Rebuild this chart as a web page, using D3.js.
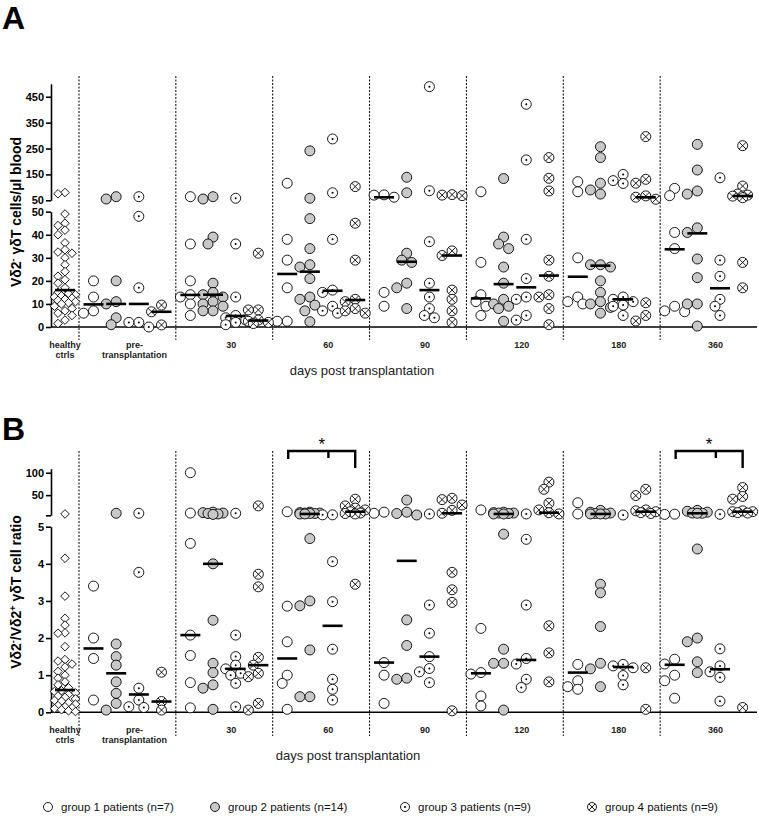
<!DOCTYPE html>
<html><head><meta charset="utf-8">
<script src="https://cdn.jsdelivr.net/npm/d3@7"></script>
<style>body{margin:0;background:#fff;} svg{display:block;font-family:Arial,"Liberation Sans",sans-serif;}</style>
</head><body><div id="chart"></div>
<script>
// ---------- DATA ----------
const timepoints = ["pre-transplantation","30","60","90","120","180","360"];
const timeLabels = [["pre-","transplantation"],["30"],["60"],["90"],["120"],["180"],["360"]];
const groupNames = ["group 1 patients (n=7)","group 2 patients (n=14)","group 3 patients (n=9)","group 4 patients (n=9)"];

// Panel A: Vδ2- γδT cells / µl blood (per timepoint)
const healthyA = [80,75,49,45,44,42,40,36.5,33.5,32.5,32,30,27,24,22,20.5,19,17,15,14.5,14,13.5,13,12.5,12,11.5,11,10.5,10,9,8,7,6,5,3,1.5];
const healthyAMedian = 16;
const cellsG1 = [[20,13,7,6],[64,36,20,14,13,10,5],[116,38,29,17,2.5,2.5],[71,70,62,15,9],[83,28,14,11,9,5],[122,83,30,13,11,10],[96,68,41,34,9,7,6.6]];
const cellsG2 = [[64,55,20,11,10,4,1],[64,55,39,36,19,15,14,13,11,10,9,7,7],[241,58,47,34,27,26,21,13,12,9.5,7,2.3],[139,79,32,29,28,19,17,8],[134,39,36,34,26,19,12,10,9,8,2.5],[257,215,116,90,74,27,27,26,20,15,11,10,8.5,6],[266,167,86,74,43,41,29.5,21.4,10,10,0.4]];
const cellsG3 = [[64,48,17,2,2,0],[58,36,13,5,4,3,2,1],[287,79,38,16,15,9,7,6],[489,87,37,19,13,8,5,4],[421,206,38,21,13,12,5,3],[150,126,115,13,12,11,9.5,9,5],[137,29,22,12,9,5]];
const cellsG4 = [[9.5,6.6,0.9],[32,7.4,7.4,3,2.5,2,1.5],[103,45,29,12,11,8,7,6],[72,70,68,33,31,16,12,7,2],[215,135,86,29,22,14,13,8,1],[296,131,116,67,62,54,10.5,5,2.6],[261,105,74,70,66,60,28,17]];
const cellsMedians = [
  [9.8,13.9,23,61.6,12.4,21.8,33.7],
  [10,14,24,28.3,18.6,26.6,40.6],
  [10,4.8,15.7,16,17.2,12,16.8],
  [6.6,2.8,11.7,31,22.3,61.6,66.6]];
const cellsTicksLow = [0,10,20,30,40,50];
const cellsTicksHigh = [50,150,250,350,450];

// Panel B: Vδ2-/Vδ2+ γδT cell ratio
const healthyB = [8,4.15,3.13,2.53,2.35,2.14,2.13,1.77,1.42,1.38,1.3,1.22,1.1,1.0,0.92,0.82,0.74,0.66,0.58,0.56,0.52,0.48,0.44,0.4,0.36,0.32,0.3,0.26,0.22,0.18,0.15,0.12,0.1,0.07,0.04,0.02];
const healthyBMedian = 0.6;
const ratioG1 = [[3.4,2.0,1.45,0.33],[100,10,4.55,2.08,1.53,0.8,0.12],[13,2.86,1.9,1.0,0.78,0.08],[12,9.5,1.34,1.0,0.24],[17,2.26,1.07,1.03,0.44,0.17],[33,8,1.29,0.85,0.69,0.62],[7.5,7,1.43,1.3,1.0,0.85,0.38]];
const ratioG2 = [[9.5,1.84,1.5,1.27,0.82,0.51,0.24,0.06],[12,11,10,9,8,7,4.0,2.48,1.32,1.07,0.74,0.65,0.08],[12,11,10,10,9,9,8,8,4.68,3.0,2.87,1.68,0.42,0.42],[39,12,9,5.7,2.49,1.8,0.92,0.89],[12,11,10,10,9,8,8,4.8,1.7,1.32,1.32,0.06],[16,12,10,9,8,8,8,3.45,3.22,2.31,1.32,1.17,0.69],[16,14,12,10,9.5,9.5,4.4,2.0,1.9,1.36,1.07]];
const ratioG3 = [[9.5,3.77,0.65,0.33,0.15,0.13],[9.5,2.08,1.5,1.27,1.17,1.05,1.0,0.78,0.15],[6,6,4.06,2.98,1.7,0.89,0.62,0.33],[8,2.89,2.13,1.5,1.18,1.09,0.8],[8,4.66,2.89,1.45,1.3,0.89,0.67],[5.7,1.29,1.25,1.2,0.99,0.74],[7.2,1.71,1.25,1.09,0.94,0.3]];
const ratioG4 = [[1.08,0.29,0.06],[26,3.72,3.38,1.48,1.27,1.05,0.96,0.24,0.06],[41,26,21,17,13,10,9,8,3.45],[43,40,28,16,9.5,3.77,3.3,2.96,0.04],[79,63,32,17,10.8,8,2.33,1.6,0.82],[63,49,17,15,13,11,9,1.2,0.08],[67,47,41,15,13,13,11,10,0.13]];
const ratioMedians = [
  [1.72,2.08,1.45,1.34,1.05,1.07,1.28],
  [1.05,4.0,8,4.08,8,8,9.5],
  [0.48,1.17,2.33,1.5,1.41,1.22,1.16],
  [0.29,1.27,13,9.5,10.8,13,13]];
const ratioTicksLow = [0,1,2,3,4,5];
const ratioTicksHigh = [5,50,100];
// significance brackets (timepoint, from group, to group)
const sigBrackets = [{time:"60",from:0,to:3,label:"*"},{time:"360",from:0,to:3,label:"*"}];

// ---------- LAYOUT ----------
const W=759,H=827;
const svg=d3.select("#chart").append("svg").attr("width",W).attr("height",H);
const axisX=51, plotRight=757;
const xBand=d3.scaleBand().domain(timepoints).range([79,plotRight]);
const xGroup=d3.scalePoint().domain([0,1,2,3]).range([14.5,82.5]);
const healthyX=65;
const gx=(t,g)=>xBand(timepoints[t])+xGroup(g);

function swarm(values,yf,cx,step,minD,maxSteps){
  const pts=[];
  values.forEach(v=>{
    const y=yf(v); let best=0,bestScore=-1;
    for(let k=0;k<=maxSteps*2;k++){
      const off=k===0?0:(k%2?-1:1)*Math.ceil(k/2)*step;
      let m=Infinity; pts.forEach(p=>{const d=Math.hypot(p.x-(cx+off),p.y-y); if(d<m)m=d;});
      if(m>=minD){best=off;bestScore=Infinity;break;}
      if(m>bestScore){bestScore=m;best=off;}
    }
    pts.push({x:cx+best,y:y,v:v});
  });
  return pts;
}

function drawSymbol(g,grp,x,y,r){
  const fill=grp===1?"#c8c8c8":"#fff";
  g.append("circle").attr("cx",x).attr("cy",y).attr("r",r).attr("fill",fill).attr("stroke","#000").attr("stroke-width",0.9);
  if(grp===2) g.append("circle").attr("cx",x).attr("cy",y).attr("r",1).attr("fill","#000");
  if(grp===3){const k=r*0.7;
    g.append("line").attr("x1",x-k).attr("y1",y-k).attr("x2",x+k).attr("y2",y+k).attr("stroke","#000").attr("stroke-width",0.9);
    g.append("line").attr("x1",x-k).attr("y1",y+k).attr("x2",x+k).attr("y2",y-k).attr("stroke","#000").attr("stroke-width",0.9);}
}

function drawPanel(cfg){
  const g=svg.append("g");
  const yf=v=>v<=cfg.brk?cfg.low(v):cfg.high(v);
  // dashed separators
  const seps=[79].concat(timepoints.slice(1).map(t=>xBand(t)));
  seps.forEach(x=>g.append("line").attr("x1",x).attr("x2",x).attr("y1",cfg.dashTop).attr("y2",cfg.dashBot)
    .attr("stroke","#000").attr("stroke-width",1).attr("stroke-dasharray","2,1.5"));
  // axes
  const aLow=d3.axisLeft(cfg.low).tickValues(cfg.ticksLow).tickSize(5).tickSizeOuter(0).tickPadding(2).tickFormat(d3.format("d"));
  const aHigh=d3.axisLeft(cfg.high).tickValues(cfg.ticksHigh).tickSize(5).tickSizeOuter(0).tickPadding(2).tickFormat(cfg.highFmt);
  [aLow,aHigh].forEach(a=>{
    const ag=g.append("g").attr("transform",`translate(${axisX},0)`).call(a);
    ag.selectAll("path,line").attr("stroke","#000").attr("stroke-width",1.6);
    ag.selectAll("text").attr("font-size",11).attr("font-weight","bold").attr("fill","#000").attr("font-family","Arial,'Liberation Sans',sans-serif");
  });
  // x baseline
  g.append("line").attr("x1",axisX).attr("x2",plotRight).attr("y1",cfg.low(0)).attr("y2",cfg.low(0)).attr("stroke","#000").attr("stroke-width",1.6);
  // category labels
  const base=cfg.low(0)+20.7;
  const lab=(x,lines)=>lines.forEach((s,i)=>g.append("text").attr("x",x).attr("y",base+i*10).attr("text-anchor","middle")
    .attr("font-size",9).attr("font-weight","bold").attr("fill","#222").text(s));
  lab(healthyX,["healthy","ctrls"]);
  timepoints.forEach((t,i)=>lab(xBand(t)+xBand.bandwidth()/2+7,timeLabels[i]));
  g.append("text").attr("x",cfg.titleX).attr("y",cfg.low(0)+48).attr("text-anchor","middle").attr("font-size",13).attr("fill","#222").text("days post transplantation");
  // healthy diamonds
  const hp=swarm(cfg.healthy,yf,healthyX,3.5,6.5,3);
  hp.forEach(p=>g.append("path").attr("d",`M${p.x},${p.y-4.3}L${p.x+4.3},${p.y}L${p.x},${p.y+4.3}L${p.x-4.3},${p.y}Z`)
    .attr("fill","#fff").attr("stroke","#000").attr("stroke-width",0.9));
  g.append("line").attr("x1",healthyX-10).attr("x2",healthyX+10).attr("y1",yf(cfg.healthyMed)).attr("y2",yf(cfg.healthyMed)).attr("stroke","#000").attr("stroke-width",2.6);
  // patient groups
  cfg.groups.forEach((arr,grp)=>{
    arr.forEach((vals,t)=>{
      const cx=gx(t,grp);
      swarm(vals,yf,cx,5,8.5,2).forEach(p=>drawSymbol(g,grp,p.x,p.y,5));
    });
  });
  cfg.groups.forEach((arr,grp)=>{
    cfg.medians[grp].forEach((m,t)=>{const cx=gx(t,grp);
      g.append("line").attr("x1",cx-10).attr("x2",cx+10).attr("y1",yf(m)).attr("y2",yf(m)).attr("stroke","#000").attr("stroke-width",2.6);});
  });
  // y title
  const tt=g.append("text").attr("transform",`translate(${cfg.ytX},${cfg.ytY}) rotate(-90)`).attr("text-anchor","middle")
    .attr("font-size",14).attr("font-weight","bold").attr("fill","#000");
  cfg.ytParts.forEach(p=>{const ts=tt.append("tspan").text(p.t); if(p.sup){ts.attr("dy",-5).attr("font-size",9);} if(p.back){ts.attr("dy",5);} });
  // panel letter
  svg.append("text").attr("x",2).attr("y",cfg.letterY).attr("font-size",32).attr("font-weight","bold").text(cfg.letter);
  return {g,yf};
}

const pA=drawPanel({
  letter:"A",letterY:29,brk:50,
  low:d3.scaleLinear().domain([0,50]).range([327,211.7]),
  high:d3.scaleLinear().domain([50,500]).range([200.3,83.8]),
  ticksLow:cellsTicksLow,ticksHigh:cellsTicksHigh,highFmt:d=>d,
  dashTop:76,dashBot:340,titleX:362,
  healthy:healthyA,healthyMed:healthyAMedian,
  groups:[cellsG1,cellsG2,cellsG3,cellsG4],medians:cellsMedians,
  ytX:21,ytY:212,
  ytParts:[{t:"Vδ2"},{t:"-",sup:true},{t:" γδT cells/µl blood",back:true}]
});
const pB=drawPanel({
  letter:"B",letterY:440,brk:5,
  low:d3.scaleLinear().domain([0,5]).range([712.3,526.7]),
  high:d3.scaleLinear().domain([5,109]).range([515.3,468.7]),
  ticksLow:ratioTicksLow,ticksHigh:ratioTicksHigh,highFmt:d=>d===5?"":d,
  dashTop:451,dashBot:736,titleX:348,
  healthy:healthyB,healthyMed:healthyBMedian,
  groups:[ratioG1,ratioG2,ratioG3,ratioG4],medians:ratioMedians,
  ytX:21,ytY:592,
  ytParts:[{t:"Vδ2"},{t:"-",sup:true},{t:"/Vδ2",back:true},{t:"+",sup:true},{t:" γδT cell ratio",back:true}]
});
// significance brackets (panel B)
sigBrackets.forEach(b=>{
  const ti=timepoints.indexOf(b.time);
  const x1=gx(ti,b.from)+1, x2=gx(ti,b.to), xm=x1+0.6*(x2-x1), top=451;
  svg.append("path").attr("d",`M${x1},${top+8}V${top}H${x2}V${top+17}M${xm},${top}V${top+7}`)
    .attr("fill","none").attr("stroke","#000").attr("stroke-width",2.4);
  svg.append("text").attr("x",(x1+x2)/2).attr("y",top-1).attr("text-anchor","middle").attr("font-size",17).text(b.label);
});
// legend
const legX=[48,215,405,592];
groupNames.forEach((n,i)=>{
  const lg=svg.append("g");
  drawSymbol(lg,i,legX[i],807,4.5);
  lg.append("text").attr("x",legX[i]+13).attr("y",811).attr("font-size",11.5).attr("fill","#111").text(n);
});
</script></body></html>
